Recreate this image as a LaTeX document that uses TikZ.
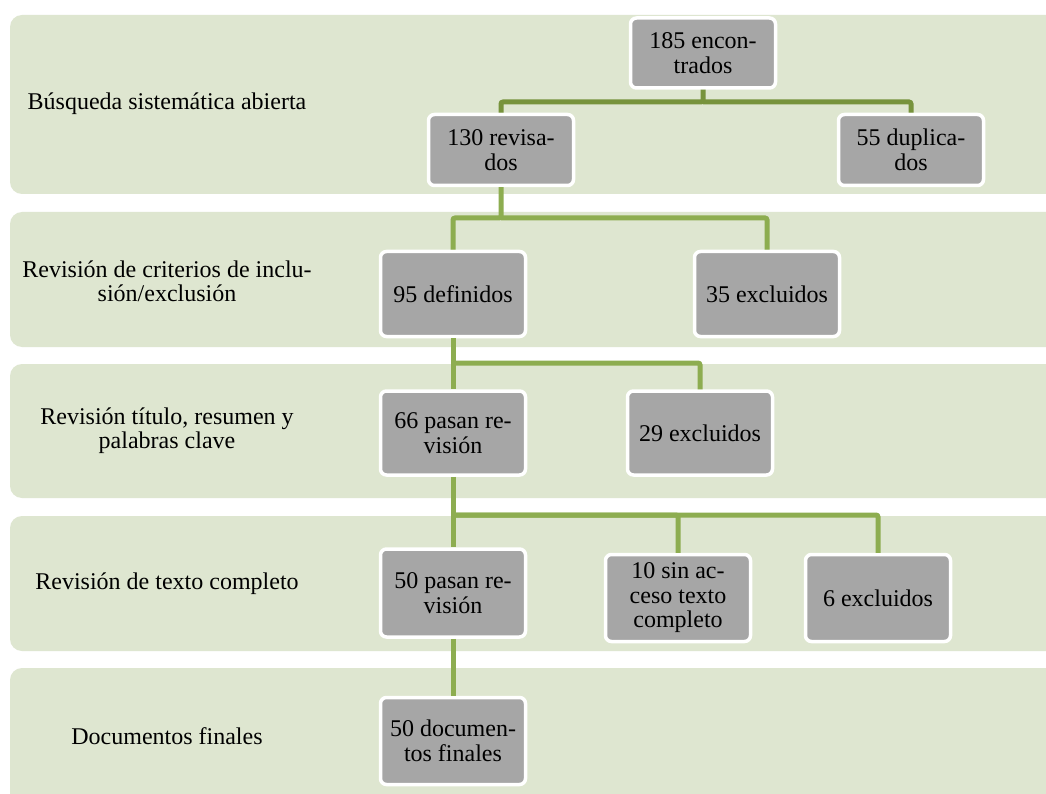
\documentclass[tikz,border=0pt]{standalone}
\usepackage{fontspec}
\setmainfont{Liberation Serif}
\usepackage{xcolor}
\definecolor{bandgreen}{RGB}{222,230,208}
\definecolor{boxgrey}{RGB}{166,166,166}
\definecolor{linkdark}{RGB}{119,147,60}
\definecolor{linkgreen}{RGB}{141,173,80}
\usetikzlibrary{positioning,calc}

\tikzset{
  stageband/.style={fill=bandgreen, rounded corners=12pt},
  stagelabel/.style={align=center, font=\fontsize{24}{24}\selectfont},
  countbox/.style={draw=white, line width=3.5pt, fill=boxgrey, rounded corners=6pt, minimum width=145pt, align=center, inner sep=2pt, font=\fontsize{24}{24.5}\selectfont},
  link/.style={draw=linkgreen, line width=5pt, rounded corners=2pt}
}

\begin{document}
\begin{tikzpicture}[x=1pt, y=-1pt]
  \clip (0,0) rectangle (1046,794);
  \fill[white] (0,0) rectangle (1046,794);

  % Stage bands
  \fill[stageband] (10,15) rectangle (1080,194);
  \fill[stageband] (10,212) rectangle (1080,347);
  \fill[stageband] (10,364) rectangle (1080,498);
  \fill[stageband] (10,516) rectangle (1080,651);
  \fill[stageband] (10,668) rectangle (1080,830);

  % Stage labels
  \node[stagelabel] (lbusq) at (167,104) {Búsqueda sistemática abierta};
  \node[stagelabel] (lcrit) at (167,281) {Revisión de criterios de inclu-\\sión/exclusión};
  \node[stagelabel] (ltit) at (167,431) {Revisión título, resumen y\\palabras clave};
  \node[stagelabel] (ltexto) at (167,584) {Revisión de texto completo};
  \node[stagelabel] (lfin) at (167,736) {Documentos finales};

  % Junctions
  \coordinate (j1) at (703,102);
  \coordinate (j2) at (501,218);
  \coordinate (j3) at (453,363);
  \coordinate (j4) at (453,515);

  % Count boxes
  \node[countbox, minimum height=70pt] (encon) at (703,53) {185 encon-\\trados};
  \node[countbox, minimum height=71pt] (revis) at (501,150) {130 revisa-\\dos};
  \node[countbox, minimum height=71pt] (dupli) at (911,150) {55 duplica-\\dos};
  \node[countbox, minimum height=85pt] (defin) at (453,294) {95 definidos};
  \node[countbox, minimum height=85pt] (excl1) at (767,294) {35 excluidos};
  \node[countbox, minimum height=84pt] (pasa1) at (453,433) {66 pasan re-\\visión};
  \node[countbox, minimum height=84pt] (excl2) at (700,433) {29 excluidos};
  \node[countbox, minimum height=88pt] (pasa2) at (453,593) {50 pasan re-\\visión};
  \node[countbox, minimum height=87pt] (sinac) at (678,598) {10 sin ac-\\ceso texto\\completo};
  \node[countbox, minimum height=87pt] (excl3) at (878,598) {6 excluidos};
  \node[countbox, minimum height=87pt] (docfin) at (453,741) {50 documen-\\tos finales};

  % Connectors
  \draw[link, draw=linkdark] (encon.south) -- (j1) -| (revis.north);
  \draw[link, draw=linkdark] (j1) -| (dupli.north);
  \draw[link] (revis.south) -- (j2) -| (defin.north);
  \draw[link] (j2) -| (excl1.north);
  \draw[link] (defin.south) -- (j3) -| (pasa1.north);
  \draw[link] (j3) -| (excl2.north);
  \draw[link] (pasa1.south) -- (j4) -- (pasa2.north);
  \draw[link] (j4) -| (sinac.north);
  \draw[link] (j4) -| (excl3.north);
  \draw[link] (pasa2.south) -- (docfin.north);
\end{tikzpicture}
\end{document}
